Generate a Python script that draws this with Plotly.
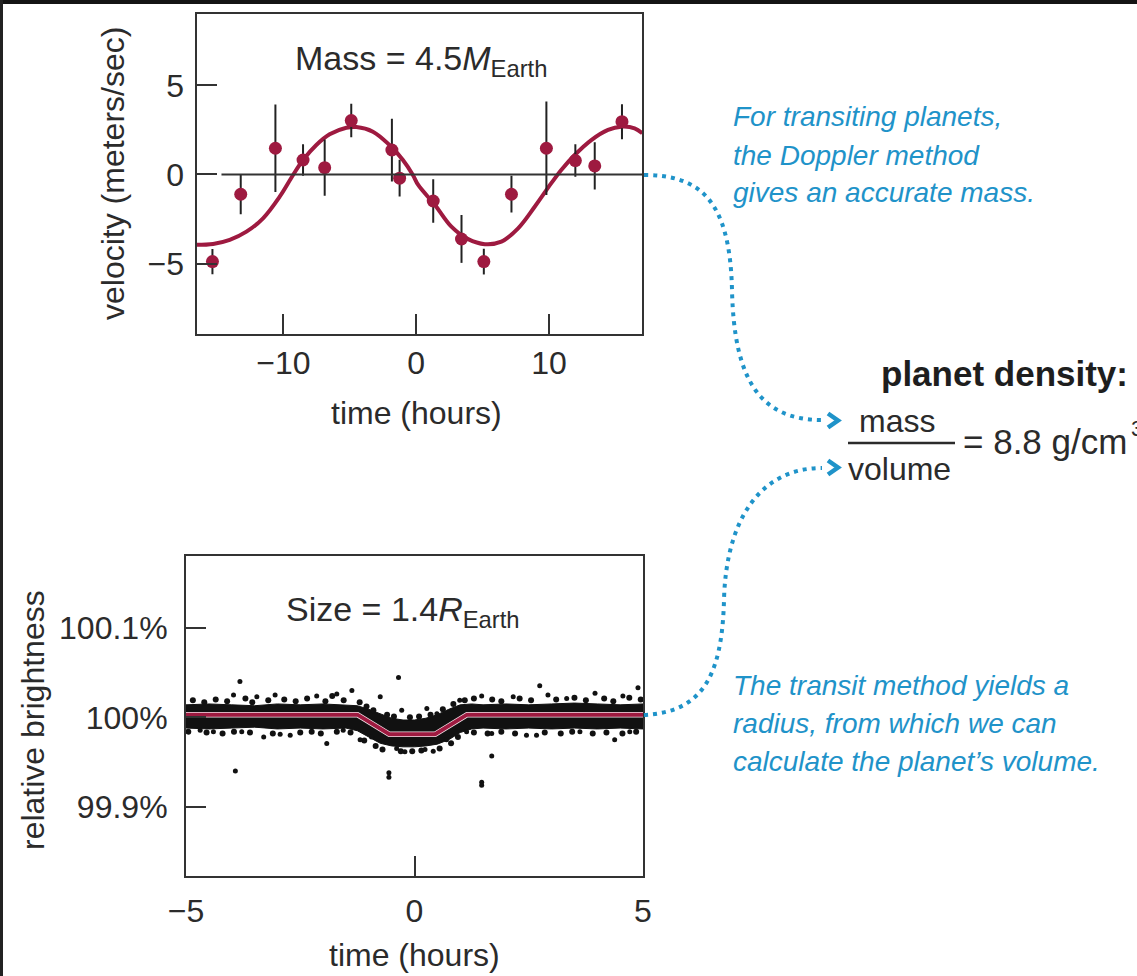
import plotly.graph_objects as go

W, H = 1137, 976

def px(x):
    return x / W

def py(y):
    return 1 - y / H

# ---------------- data: Doppler (radial velocity) ----------------
rv_time = [-15.34, -13.21, -10.60, -8.52, -6.89, -4.89, -1.83, -1.25, 1.28, 3.41,
           5.09, 7.17, 9.80, 11.98, 13.44, 15.49]
rv_vel = [-4.89, -1.11, 1.47, 0.81, 0.38, 3.02, 1.37, -0.21, -1.49, -3.62,
          -4.89, -1.11, 1.47, 0.78, 0.48, 2.96]
rv_err = [0.71, 1.12, 2.45, 0.89, 1.58, 0.94, 1.76, 1.03, 1.22, 1.34,
          0.72, 1.03, 2.62, 0.91, 1.33, 0.98]

fit_time = [-16.54, -15.29, -14.04, -12.78, -11.53, -10.28, -9.27, -8.52, -7.52, -6.52,
            -5.26, -4.51, -3.26, -2.01, -1.00, -0.25, 0.15, 1.41, 2.65, 3.91,
            5.17, 6.41, 7.67, 8.92, 10.17, 10.92, 11.93, 13.18, 14.44, 15.44,
            16.44, 17.02]
fit_vel = [-3.95, -3.90, -3.67, -3.21, -2.46, -1.25, -0.03, 0.81, 1.65, 2.25,
           2.62, 2.66, 2.40, 1.65, 0.81, -0.03, -0.59, -1.71, -2.93, -3.63,
           -3.91, -3.77, -3.02, -1.81, -0.49, 0.25, 1.09, 1.93, 2.50, 2.68,
           2.59, 2.31]

# ---------------- data: transit light curve ----------------
band_time = [-5.0, -4.5, -4.0, -3.5, -3.0, -2.5, -2.0, -1.5, -1.25, -1.0, -0.75, -0.5,
             -0.25, 0.0, 0.25, 0.5, 0.75, 1.0, 1.25, 1.5, 2.0, 2.5, 3.0, 3.5, 4.0, 4.5, 5.0]
band_upper = [100.014, 100.015, 100.014, 100.013, 100.015, 100.014, 100.015, 100.014,
              100.013, 100.009, 100.004, 99.999, 99.997, 99.997, 99.999, 100.003,
              100.009, 100.014, 100.015, 100.014, 100.015, 100.014, 100.015, 100.016,
              100.015, 100.014, 100.015]
band_lower = [99.988, 99.987, 99.988, 99.989, 99.987, 99.988, 99.987, 99.988,
              99.985, 99.978, 99.971, 99.968, 99.967, 99.967, 99.968, 99.970,
              99.975, 99.983, 99.987, 99.988, 99.987, 99.988, 99.987, 99.988,
              99.987, 99.988, 99.987]

# scattered measurements standing out of the dense band
obs_time = [-3.96, -3.82, -3.45, -3.05, -2.14, -1.70, -1.37, -0.75, -0.35, -0.28,
            0.27, 0.49, 0.99, 1.47, 2.16, 2.74, 2.92, 3.33, 3.95, 4.56, 4.89,
            -4.69, -4.40, -3.92, -3.78, -3.30, -2.94, -2.72, -1.92, -1.56, -1.19,
            -0.94, -0.56, -0.56, -0.39, -0.21, 0.23, 0.41, 0.70, 1.14, 1.47, 1.47,
            1.69, 1.69, 2.45, 2.67, 3.62, 4.38, 4.71]
obs_flux = [100.025, 100.040, 100.023, 100.025, 100.024, 100.026, 100.030, 100.023,
            100.0445, 100.008, 100.010, 100.004, 100.019, 100.024, 100.023, 100.0355,
            100.025, 100.021, 100.027, 100.024, 100.033,
            99.9856, 99.984, 99.940, 99.984, 99.978, 99.981, 99.980, 99.9706, 99.9856,
            99.975, 99.978, 99.938, 99.933, 99.965, 99.9615, 99.964, 99.962, 99.975,
            99.984, 99.9274, 99.924, 99.9567, 99.982, 99.980, 99.980, 99.984, 99.975,
            99.984]

# measurements along the ragged edges of the band
edge_time = [-4.85, -4.60, -4.35, -4.10, -3.70, -3.55, -3.20, -2.85, -2.60, -2.35,
             -1.95, -1.80, -1.55, -1.20, -1.05, -0.90, -0.60, -0.45, -0.10, 0.10,
             0.35, 0.62, 0.85, 1.10, 1.30, 1.70, 1.90, 2.30, 2.55, 3.10, 3.50,
             3.75, 4.15, 4.35, 4.70, 4.95,
             -4.95, -4.55, -4.20, -3.95, -3.60, -3.10, -2.50, -2.25, -2.05, -1.70,
             -1.40, -1.10, -0.85, -0.70, -0.30, -0.05, 0.15, 0.55, 0.80, 0.95,
             1.30, 1.60, 1.90, 2.20, 2.85, 3.20, 3.45, 3.90, 4.20, 4.55, 4.85]
edge_flux = [100.019, 100.017, 100.020, 100.018, 100.021, 100.017, 100.019, 100.020,
             100.018, 100.021, 100.018, 100.024, 100.019, 100.017, 100.012, 100.008,
             100.003, 100.001, 100.000, 100.001, 100.003, 100.009, 100.015, 100.019,
             100.021, 100.020, 100.018, 100.021, 100.019, 100.020, 100.022, 100.019,
             100.021, 100.018, 100.022, 100.020,
             99.984, 99.983, 99.982, 99.984, 99.983, 99.982, 99.983, 99.984, 99.982,
             99.984, 99.983, 99.974, 99.968, 99.964, 99.962, 99.962, 99.963, 99.965,
             99.971, 99.978, 99.983, 99.982, 99.984, 99.982, 99.983, 99.982, 99.984,
             99.982, 99.983, 99.982, 99.984]

model_time = [-5.0, -1.25, -0.55, 0.45, 1.15, 5.0]
model_flux = [100.003, 100.003, 99.981, 99.981, 100.003, 100.003]

# ---------------- styles ----------------
RED = "#9e1a40"
INK = "#2b2b2b"
AXC = "#333333"
BLUE = "#1f93c9"
FONT = "Liberation Sans, Arial, Helvetica, sans-serif"

fig = go.Figure()

fig.add_trace(go.Scatter(x=fit_time, y=fit_vel, mode="lines", line_shape="spline",
                         line=dict(color=RED, width=4), xaxis="x", yaxis="y",
                         hoverinfo="skip"))
fig.add_trace(go.Scatter(x=rv_time, y=rv_vel, mode="markers",
                         marker=dict(color=RED, size=13),
                         error_y=dict(type="data", array=rv_err, color="#222222",
                                      thickness=2, width=0),
                         xaxis="x", yaxis="y"))

fig.add_trace(go.Scatter(x=band_time, y=band_lower, mode="lines",
                         line=dict(color="#111111", width=1), xaxis="x2", yaxis="y2",
                         hoverinfo="skip"))
fig.add_trace(go.Scatter(x=band_time, y=band_upper, mode="lines", fill="tonexty",
                         fillcolor="#111111", line=dict(color="#111111", width=1),
                         xaxis="x2", yaxis="y2", hoverinfo="skip"))
fig.add_trace(go.Scatter(x=edge_time, y=edge_flux, mode="markers",
                         marker=dict(color="#111111", size=6),
                         xaxis="x2", yaxis="y2"))
fig.add_trace(go.Scatter(x=obs_time, y=obs_flux, mode="markers",
                         marker=dict(color="#111111", size=5),
                         xaxis="x2", yaxis="y2"))
fig.add_trace(go.Scatter(x=model_time, y=model_flux, mode="lines",
                         line=dict(color="#f3e3e8", width=5.5), xaxis="x2", yaxis="y2",
                         hoverinfo="skip"))
fig.add_trace(go.Scatter(x=model_time, y=model_flux, mode="lines",
                         line=dict(color=RED, width=4), xaxis="x2", yaxis="y2",
                         hoverinfo="skip"))

axis_common = dict(showline=True, linewidth=2, linecolor=AXC, mirror=True,
                   ticks="inside", ticklen=20, tickwidth=2, tickcolor=AXC,
                   showgrid=False, zeroline=False, automargin=False,
                   tickfont=dict(family=FONT, size=32, color=INK))

fig.update_layout(
    width=W, height=H, margin=dict(l=0, r=0, t=0, b=0, pad=0, autoexpand=False),
    paper_bgcolor="white", plot_bgcolor="white", showlegend=False,
    font=dict(family=FONT, color=INK),
    xaxis=dict(domain=[px(196.5), px(642.3)], range=[-16.54, 17.02], anchor="y",
               tickvals=[-10, 0, 10], ticktext=["\u221210", "0", "10"],
               ticklabelstandoff=0, **axis_common),
    yaxis=dict(domain=[py(334), py(14)], range=[-8.95, 9.0], anchor="x",
               tickvals=[-5, 0, 5], ticktext=["\u22125", "0", "5"],
               ticklabelstandoff=4, **axis_common),
    xaxis2=dict(domain=[px(186), px(643)], range=[-5, 5], anchor="y2",
                tickvals=[-5, 0, 5], ticktext=["\u22125", "0", "5"],
                ticklabelstandoff=6, **axis_common),
    yaxis2=dict(domain=[py(876), py(556)], range=[99.8224, 100.1806], anchor="x2",
                tickvals=[99.9, 100.0, 100.1], ticktext=["99.9%", "100%", "100.1%"],
                ticklabelstandoff=10, **axis_common),
)

shapes = []
# zero line of the velocity panel
shapes.append(dict(type="line", xref="x", yref="y", x0=-14.66, x1=17.02, y0=0, y1=0,
                   line=dict(color=AXC, width=2)))
# black frame remnants (top and left)
shapes.append(dict(type="rect", xref="paper", yref="paper", x0=0, x1=1,
                   y0=py(4), y1=1, fillcolor="#141414", line=dict(width=0)))
shapes.append(dict(type="rect", xref="paper", yref="paper", x0=0, x1=px(3),
                   y0=0, y1=1, fillcolor="#222222", line=dict(width=0)))

def pt(a, b):
    return f"{px(a):.5f},{py(b):.5f}"

top_path = (f"M {pt(644, 175)} C {pt(700, 175)} {pt(730, 200)} {pt(732, 290)} "
            f"C {pt(734, 380)} {pt(760, 420)} {pt(822, 420)}")
bot_path = (f"M {pt(644, 715)} C {pt(700, 712)} {pt(722, 680)} {pt(724, 600)} "
            f"C {pt(726, 520)} {pt(760, 468)} {pt(822, 468)}")
for pth in (top_path, bot_path):
    shapes.append(dict(type="path", xref="paper", yref="paper", path=pth,
                       line=dict(color=BLUE, width=4, dash="4px,5px")))
for yc in (420.5, 467.5):
    chev = f"M {pt(828, yc - 7)} L {pt(838, yc)} L {pt(828, yc + 7)}"
    shapes.append(dict(type="path", xref="paper", yref="paper", path=chev,
                       line=dict(color=BLUE, width=4.5)))
# fraction bar
shapes.append(dict(type="line", xref="paper", yref="paper", x0=px(848), x1=px(955),
                   y0=py(443), y1=py(443), line=dict(color=INK, width=2.5)))
fig.update_layout(shapes=shapes)

ann = []

def text(x, y, s, size=32, color=INK, xanchor="center", angle=0):
    ann.append(dict(x=px(x), y=py(y), xref="paper", yref="paper", text=s,
                    showarrow=False, xanchor=xanchor, yanchor="middle",
                    textangle=angle, font=dict(family=FONT, size=size, color=color)))

text(113, 174, "velocity (meters/sec)", angle=-90)
text(416, 413, "time (hours)")
text(33, 720, "relative brightness", angle=-90)
text(414, 955, "time (hours)")
text(421, 60, "Mass = 4.5<i>M</i><sub>Earth</sub>", size=34)
text(403, 611, "Size = 1.4<i>R</i><sub>Earth</sub>", size=34)

blue_top = ["For transiting planets,", "the Doppler method", "gives an accurate mass."]
blue_bot = ["The transit method yields a", "radius, from which we can",
            "calculate the planet\u2019s volume."]
for i, line in enumerate(blue_top):
    text(731, 117 + 38 * i, f"<i>{line}</i>", size=28, color=BLUE, xanchor="left")
for i, line in enumerate(blue_bot):
    text(731, 685 + 38 * i, f"<i>{line}</i>", size=28, color=BLUE, xanchor="left")

text(1004, 373, "<b>planet density:</b>", size=35, color="#1e1e1e")
text(897, 421, "mass", size=32)
text(900, 469, "volume", size=32)
text(961, 442, "= 8.8 g/cm", size=35, xanchor="left")
text(1129, 428, "3", size=22, xanchor="left")

fig.update_layout(annotations=ann)

fig.write_html("out.html")
